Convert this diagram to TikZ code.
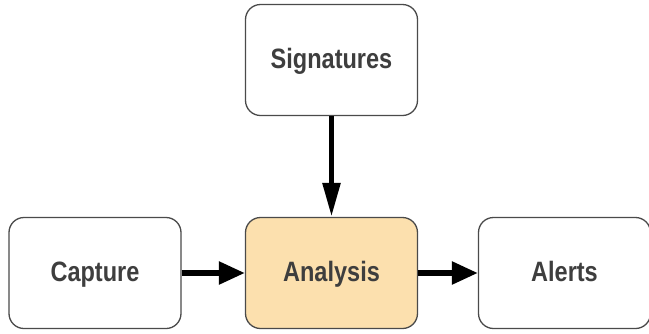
\documentclass[tikz,border=0pt]{standalone}
\usepackage{fontspec}
\setmainfont{Liberation Sans}
\usetikzlibrary{arrows.meta}
\definecolor{boxline}{HTML}{4A4A4A}
\definecolor{txt}{HTML}{3E3E3E}
\definecolor{orangefill}{HTML}{FCE0AE}
\newcommand{\lbl}[1]{\scalebox{0.84}[1]{#1}}
\begin{document}
\begin{tikzpicture}[x=1pt,y=-1pt,
  box/.style={draw=boxline, line width=1.3pt, rounded corners=15pt, fill=white,
    minimum width=172pt, minimum height=111pt, inner sep=0pt,
    text height=20pt, text depth=4pt,
    font=\fontsize{28}{30}\selectfont\bfseries, text=txt}]
\useasboundingbox (0,0) rectangle (649,333);
\node[box] (sig) at (331.5,60) {\lbl{Signatures}};
\node[box] (cap) at (95,273) {\lbl{Capture}};
\node[box, fill=orangefill] (ana) at (331.5,273) {\lbl{Analysis}};
\node[box] (ale) at (564.5,273) {\lbl{Alerts}};
\draw[line width=5.5pt, -{Triangle[length=34pt,width=17pt]}] (sig) -- (ana);
\draw[line width=5.5pt, -{Triangle[length=26pt,width=22pt]}] (cap) -- (ana);
\draw[line width=5.5pt, -{Triangle[length=26pt,width=22pt]}] (ana) -- (ale);
\end{tikzpicture}
\end{document}
